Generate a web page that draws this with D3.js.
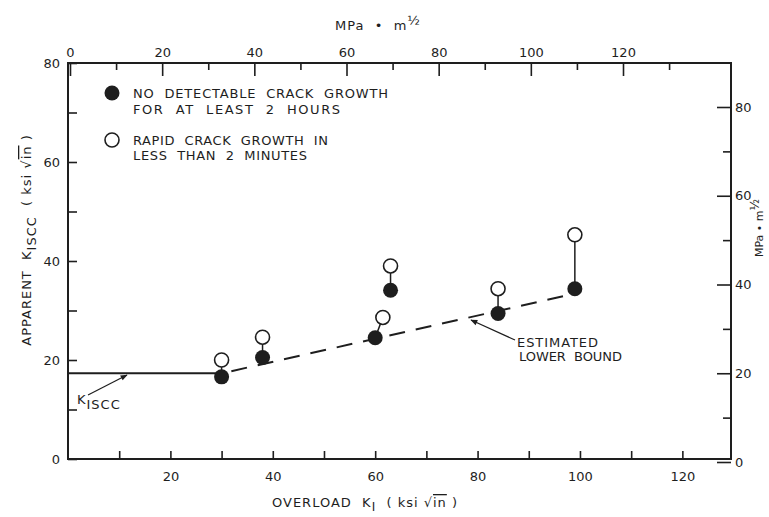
<!DOCTYPE html>
<html>
<head>
<meta charset="utf-8">
<script src="https://cdn.jsdelivr.net/npm/d3@7"></script>
<style>
body { margin: 0; background: #fff; }
svg text { font-family: "DejaVu Sans", sans-serif; fill: #1e1e1e; }
.axis path { display: none; }
.axis line { stroke: #1e1e1e; stroke-width: 1.6; }
.axis text { font-size: 13px; font-family: "DejaVu Sans", sans-serif; fill: #1e1e1e; }
.lbl { font-size: 13px; letter-spacing: 1px; }
</style>
</head>
<body>
<script>
// valores (ksi sqrt(in))
var noGrowthX = [30, 38, 60, 63, 84, 99];
var noGrowthY = [16.6, 20.5, 24.5, 34.1, 29.4, 34.4];
var rapidX    = [30, 38, 61.5, 63, 84, 99];
var rapidY    = [20.0, 24.6, 28.6, 39.0, 34.4, 45.3];
var kIscc     = 17.3;
var lowerBoundX = [30, 98.5];
var lowerBoundY = [17.3, 33.3];

var ticksBottom   = [10, 20, 30, 40, 50, 60, 70, 80, 90, 100, 110, 120];
var ticksLeft     = [0, 10, 20, 30, 40, 50, 60, 70, 80];
var ticksTopMaj   = [0, 20, 40, 60, 80, 100, 120];
var ticksTopMin   = [10, 30, 50, 70, 90, 110, 130];
var ticksRightMaj = [0, 20, 40, 60, 80];
var ticksRightMin = [10, 30, 50, 70];

var svgW = 769, svgH = 517;
var ink = "#1e1e1e";

var svg = d3.select("body").append("svg")
            .attr("width", svgW)
            .attr("height", svgH);

var defs = svg.append("defs");
defs.append("marker")
    .attr("id", "flecha")
    .attr("viewBox", "0 0 10 10")
    .attr("refX", 9).attr("refY", 5)
    .attr("markerWidth", 9).attr("markerHeight", 7)
    .attr("markerUnits", "userSpaceOnUse")
    .attr("orient", "auto")
    .append("path")
    .attr("d", "M0,1 L10,5 L0,9 Z")
    .attr("fill", ink);

var x      = d3.scaleLinear().domain([0, 129.5]).range([68, 731]);
var y      = d3.scaleLinear().domain([0, 80]).range([459, 63]);
var xTop   = d3.scaleLinear().domain([0, 120]).range([70, 623]);
var yRight = d3.scaleLinear().domain([0, 80]).range([462, 107]);

// marco
svg.append("rect")
   .attr("x", x(0)).attr("y", y(80))
   .attr("width", x(129.5) - x(0))
   .attr("height", y(0) - y(80))
   .attr("fill", "none")
   .attr("stroke", ink)
   .attr("stroke-width", 2);

var fmt20 = function(d) { return d % 20 == 0 ? d : ""; };

svg.append("g").attr("class", "axis")
   .attr("transform", "translate(0," + y(0) + ")")
   .call(d3.axisBottom(x).tickValues(ticksBottom).tickFormat(fmt20)
           .tickSize(-8).tickPadding(13));

svg.append("g").attr("class", "axis")
   .attr("transform", "translate(" + x(0) + ",0)")
   .call(d3.axisLeft(y).tickValues(ticksLeft).tickFormat(fmt20)
           .tickSize(-9).tickPadding(8));

svg.append("g").attr("class", "axis")
   .attr("transform", "translate(0," + y(80) + ")")
   .call(d3.axisTop(xTop).tickValues(ticksTopMaj)
           .tickSize(-13).tickPadding(6));

svg.append("g").attr("class", "axis")
   .attr("transform", "translate(0," + y(80) + ")")
   .call(d3.axisTop(xTop).tickValues(ticksTopMin).tickFormat("")
           .tickSize(-7));

svg.append("g").attr("class", "axis")
   .attr("transform", "translate(" + x(129.5) + ",0)")
   .call(d3.axisRight(yRight).tickValues(ticksRightMaj)
           .tickSize(-14).tickPadding(4));

svg.append("g").attr("class", "axis")
   .attr("transform", "translate(" + x(129.5) + ",0)")
   .call(d3.axisRight(yRight).tickValues(ticksRightMin).tickFormat("")
           .tickSize(-8));

// K_ISCC
svg.append("line")
   .attr("x1", x(0)).attr("x2", x(noGrowthX[0]))
   .attr("y1", y(kIscc)).attr("y2", y(kIscc))
   .attr("stroke", ink).attr("stroke-width", 2);

// limite inferior estimado
svg.append("line")
   .attr("x1", x(lowerBoundX[0])).attr("y1", y(lowerBoundY[0]))
   .attr("x2", x(lowerBoundX[1])).attr("y2", y(lowerBoundY[1]))
   .attr("stroke", ink).attr("stroke-width", 2)
   .attr("stroke-dasharray", "16,11")
   .attr("stroke-dashoffset", -10);

// uniones
svg.selectAll(".union")
   .data(noGrowthX)
   .enter()
   .append("line")
   .attr("class", "union")
   .attr("x1", function(d, i) { return x(d); })
   .attr("y1", function(d, i) { return y(noGrowthY[i]); })
   .attr("x2", function(d, i) { return x(rapidX[i]); })
   .attr("y2", function(d, i) { return y(rapidY[i]); })
   .attr("stroke", ink).attr("stroke-width", 1.5);

svg.selectAll(".abierto")
   .data(rapidX)
   .enter()
   .append("circle")
   .attr("class", "abierto")
   .attr("cx", function(d) { return x(d); })
   .attr("cy", function(d, i) { return y(rapidY[i]); })
   .attr("r", 7)
   .attr("fill", "#fff")
   .attr("stroke", ink).attr("stroke-width", 1.6);

svg.selectAll(".lleno")
   .data(noGrowthX)
   .enter()
   .append("circle")
   .attr("class", "lleno")
   .attr("cx", function(d) { return x(d); })
   .attr("cy", function(d, i) { return y(noGrowthY[i]); })
   .attr("r", 7.5)
   .attr("fill", ink);

// leyenda
svg.append("circle").attr("cx", 112).attr("cy", 93).attr("r", 7.5).attr("fill", ink);
svg.append("circle").attr("cx", 112).attr("cy", 140).attr("r", 7)
   .attr("fill", "#fff").attr("stroke", ink).attr("stroke-width", 1.6);

var leyenda = [
  ["NO  DETECTABLE  CRACK  GROWTH", 98, 255],
  ["FOR  AT  LEAST  2  HOURS", 114, 207],
  ["RAPID  CRACK  GROWTH  IN", 145, 195],
  ["LESS  THAN  2  MINUTES", 160, 174]
];
svg.selectAll(".ley")
   .data(leyenda)
   .enter()
   .append("text")
   .attr("class", "ley")
   .attr("x", 133)
   .attr("y", function(d) { return d[1]; })
   .attr("textLength", function(d) { return d[2]; })
   .attr("lengthAdjust", "spacing")
   .style("font-size", "13px")
   .style("white-space", "pre")
   .text(function(d) { return d[0]; });

// anotaciones
svg.append("line")
   .attr("x1", 88).attr("y1", 395).attr("x2", 127).attr("y2", 375)
   .attr("stroke", ink).attr("stroke-width", 1.2)
   .attr("marker-end", "url(#flecha)");
var kt = svg.append("text").attr("x", 77).attr("y", 404).attr("class", "lbl")
            .style("white-space", "pre");
kt.append("tspan").text("K");
kt.append("tspan").attr("dy", 5).text("ISCC");

svg.append("line")
   .attr("x1", 515).attr("y1", 340).attr("x2", 471).attr("y2", 320)
   .attr("stroke", ink).attr("stroke-width", 1.2)
   .attr("marker-end", "url(#flecha)");
svg.append("text").attr("x", 517).attr("y", 347).attr("class", "lbl")
   .attr("textLength", 82).attr("lengthAdjust", "spacing").text("ESTIMATED");
svg.append("text").attr("x", 519).attr("y", 361).attr("class", "lbl")
   .attr("textLength", 104).attr("lengthAdjust", "spacing")
   .style("white-space", "pre").text("LOWER  BOUND");

// titulos
var tb = svg.append("text").attr("x", 272).attr("y", 507).attr("class", "lbl")
            .style("white-space", "pre");
tb.append("tspan").text("OVERLOAD  K");
tb.append("tspan").attr("dy", 4).style("font-size", "12px").text("I");
tb.append("tspan").attr("dy", -4).text("  ( ksi √");
tb.append("tspan").style("text-decoration", "overline").text("in");
tb.append("tspan").text(" )");

var tl = svg.append("text").attr("class", "lbl")
            .attr("transform", "translate(31,240) rotate(-90)")
            .attr("text-anchor", "middle")
            .style("white-space", "pre");
tl.append("tspan").text("APPARENT  K");
tl.append("tspan").attr("dy", 5).text("ISCC");
tl.append("tspan").attr("dy", -5).text("  ( ksi √");
tl.append("tspan").style("text-decoration", "overline").text("in");
tl.append("tspan").text(" )");

var tt = svg.append("text").attr("x", 335).attr("y", 30).attr("class", "lbl")
            .style("white-space", "pre");
tt.append("tspan").text("MPa  •  m");
tt.append("tspan").attr("dy", -5).text("½");

var tr = svg.append("text")
            .attr("transform", "translate(763,228) rotate(-90)")
            .attr("text-anchor", "middle")
            .style("font-size", "11px")
            .style("white-space", "pre");
tr.append("tspan").text("MPa • m");
tr.append("tspan").attr("dy", -4).style("font-size", "12px").text("½");
</script>
</body>
</html>
